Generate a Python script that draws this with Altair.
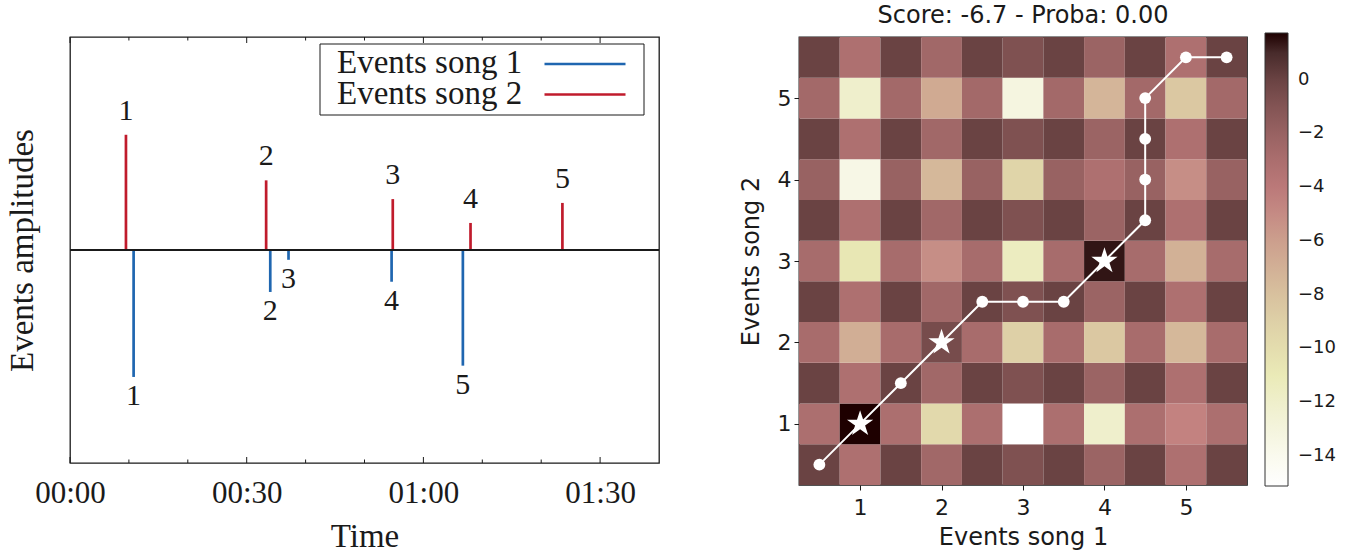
import altair as alt
import numpy as np
import pandas as pd

# ------------------------------------------------------------------
# Left panel: detected events of the two songs (times in seconds)
# ------------------------------------------------------------------
song1_times = [10.8, 34.0, 37.1, 54.6, 66.7]
song1_amps = [0.596, 0.197, 0.046, 0.149, 0.543]
song2_times = [9.5, 33.3, 54.8, 68.0, 83.6]
song2_amps = [0.541, 0.327, 0.239, 0.127, 0.221]
event_ids = [1, 2, 3, 4, 5]

time_ticks = [0, 30, 60, 90]
minor_ticks = [10, 20, 40, 50, 70, 80]
legend_labels = ["Events song 1", "Events song 2"]

# ------------------------------------------------------------------
# Right panel: alignment score grid and the best path through it
# ------------------------------------------------------------------
grid_pos = [0.5, 1.0, 1.5, 2.0, 2.5, 3.0, 3.5, 4.0, 4.5, 5.0, 5.5]
score_rows = [  # bottom row (y = 0.5) first, columns x = 0.5 ... 5.5
    [0.0, -3.15, 0.0, -2.47, 0.0, -0.8, 0.0, -2.14, 0.0, -3.15, 0.0],
    [-3.05, 1.74, -3.05, -9.7, -3.05, -15.12, -3.05, -12.05, -3.05, -4.58, -3.05],
    [0.0, -3.15, 0.0, -2.47, 0.0, -0.8, 0.0, -2.14, 0.0, -3.15, 0.0],
    [-2.85, -6.86, -2.85, -0.5, -2.85, -9.05, -2.85, -8.46, -2.85, -7.45, -2.85],
    [0.0, -3.15, 0.0, -2.47, 0.0, -0.8, 0.0, -2.14, 0.0, -3.15, 0.0],
    [-2.8, -10.74, -2.8, -5.17, -2.8, -11.41, -2.8, 1.44, -2.8, -7.03, -2.8],
    [0.0, -3.15, 0.0, -2.47, 0.0, -0.8, 0.0, -2.14, 0.0, -3.15, 0.0],
    [-2.0, -13.54, -2.0, -7.45, -2.0, -9.39, -2.0, -3.15, -2.0, -5.17, -2.0],
    [0.0, -3.15, 0.0, -2.47, 0.0, -0.8, 0.0, -2.14, 0.0, -3.15, 0.0],
    [-2.6, -12.05, -2.6, -6.61, -2.6, -13.17, -2.6, -7.3, -2.6, -8.46, -2.6],
    [0.0, -3.15, 0.0, -2.47, 0.0, -0.8, 0.0, -2.14, 0.0, -3.15, 0.0],
]
path_x = [0.5, 1.0, 1.5, 2.0, 2.5, 3.0, 3.5, 4.0, 4.5, 4.5, 4.5, 4.5, 5.0, 5.5]
path_y = [0.5, 1.0, 1.5, 2.0, 2.5, 2.5, 2.5, 3.0, 3.5, 4.0, 4.5, 5.0, 5.5, 5.5]
path_match = [0, 1, 0, 1, 0, 0, 0, 1, 0, 0, 0, 0, 0, 0]
score_ticks = [0, -2, -4, -6, -8, -10, -12, -14]
axis_ticks = [1, 2, 3, 4, 5]
title_text = "Score: -6.7 - Proba: 0.00"

# ------------------------------------------------------------------
# Styling
# ------------------------------------------------------------------
SERIF = "Liberation Serif"
SANS = "DejaVu Sans"
INK = "#1a1a1a"
BLUE = "#1f66b0"
RED = "#c01b2c"
LW, LH = 589, 426   # left plot area
RW, RH = 448, 448   # heatmap plot area

# five-pointed star in the unit square (inner radius 0.382)
STAR = ("M0,-1L0.2245,-0.309L0.9511,-0.309L0.3633,0.118L0.5878,0.809"
        "L0,0.382L-0.5878,0.809L-0.3633,0.118L-0.9511,-0.309L-0.2245,-0.309Z")


def pink_hex(x):
    """matplotlib-style 'pink' colormap: sqrt of (2/3 gray + 1/3 hot)."""
    hot = np.array([
        np.clip(0.0416 + 0.9584 * x / 0.365079, 0, 1),
        np.clip((x - 0.365079) / 0.380953, 0, 1),
        np.clip((x - 0.746032) / 0.253968, 0, 1),
    ])
    rgb = np.sqrt((2 * x + hot) / 3)
    return "#" + "".join(f"{int(round(c * 255)):02x}" for c in rgb)


# ------------------------------------------------------------------
# Left panel
# ------------------------------------------------------------------
stems = pd.DataFrame({
    "time": song1_times + song2_times,
    "amp": [-a for a in song1_amps] + song2_amps,
    "base": [0.0] * (len(song1_times) + len(song2_times)),
    "song": [legend_labels[0]] * len(song1_times) + [legend_labels[1]] * len(song2_times),
    "event": event_ids + event_ids,
})
zero_df = pd.DataFrame({"amp": [0.0]})

# every layer uses the same x / y definitions so the axes merge cleanly
x_time = alt.X(
    "time:Q",
    scale=alt.Scale(domain=[0, 100], nice=False, zero=False),
    axis=alt.Axis(
        values=time_ticks,
        labelExpr="utcFormat(datum.value * 1000, '%M:%S')",
        ticks=False, domain=False, grid=False,
        labelFlush=False, labelOverlap=False,
        labelFont=SERIF, labelFontSize=31, labelColor=INK, labelPadding=15,
        title="Time", titleFont=SERIF, titleFontSize=33, titleFontWeight="normal",
        titleColor=INK, titlePadding=12,
    ),
)
y_amp = alt.Y(
    "amp:Q",
    scale=alt.Scale(domain=[-1, 1], nice=False, zero=False),
    axis=alt.Axis(
        labels=False, ticks=False, domain=False, grid=False,
        title="Events amplitudes", titleFont=SERIF, titleFontSize=33,
        titleFontWeight="normal", titleColor=INK, titlePadding=31,
    ),
)

song2_stems = (
    alt.Chart(stems)
    .transform_filter(alt.datum.song == legend_labels[1])
    .mark_rule(color=RED, strokeWidth=2.7)
    .encode(x=x_time, y=y_amp, y2="base:Q")
)
song1_stems = (
    alt.Chart(stems)
    .transform_filter(alt.datum.song == legend_labels[0])
    .mark_rule(color=BLUE, strokeWidth=2.7)
    .encode(x=x_time, y=y_amp, y2="base:Q")
)
zero_line = (
    alt.Chart(zero_df)
    .mark_rule(color=INK, strokeWidth=2)
    .encode(y=y_amp)
)
song2_text = (
    alt.Chart(stems)
    .transform_filter(alt.datum.song == legend_labels[1])
    .mark_text(font=SERIF, fontSize=30, color=INK, baseline="middle", dy=-24)
    .encode(x=x_time, y=y_amp, text="event:N")
)
song1_text = (
    alt.Chart(stems)
    .transform_filter(alt.datum.song == legend_labels[0])
    .mark_text(font=SERIF, fontSize=30, color=INK, baseline="middle", dy=19)
    .encode(x=x_time, y=y_amp, text="event:N")
)


def inner_ticks(values, length, top):
    y0 = 0 if top else LH
    y1 = length if top else LH - length
    return (
        alt.Chart(pd.DataFrame({"time": values}))
        .mark_rule(color=INK, strokeWidth=1)
        .encode(x=x_time, y=alt.value(y0), y2=alt.value(y1))
    )


legend_df = pd.DataFrame({"label": legend_labels, "row": [0, 1]})
legend_box = (
    alt.Chart(legend_df)
    .transform_filter("datum.row == 0")
    .mark_rect(fill="white", stroke=INK, strokeWidth=1)
    .encode(x=alt.value(250), x2=alt.value(574), y=alt.value(7), y2=alt.value(78))
)
legend_layers = [legend_box]
for i, (col, yc) in enumerate(zip([BLUE, RED], [26, 56.5])):
    legend_layers.append(
        alt.Chart(legend_df)
        .transform_filter(f"datum.row == {i}")
        .mark_text(align="left", baseline="middle", font=SERIF, fontSize=33, color=INK)
        .encode(x=alt.value(267), y=alt.value(yc), text="label:N")
    )
    legend_layers.append(
        alt.Chart(legend_df)
        .transform_filter(f"datum.row == {i}")
        .mark_rule(color=col, strokeWidth=2.7)
        .encode(x=alt.value(474.5), x2=alt.value(555.5), y=alt.value(yc + 1))
    )

left = alt.layer(
    song2_stems,
    song1_stems,
    zero_line,
    song2_text,
    song1_text,
    inner_ticks(time_ticks, 6, False),
    inner_ticks(minor_ticks, 3.5, False),
    inner_ticks(time_ticks, 6, True),
    inner_ticks(minor_ticks, 3.5, True),
    *legend_layers,
).properties(width=LW, height=LH)

# ------------------------------------------------------------------
# Right panel
# ------------------------------------------------------------------
cells = pd.DataFrame(
    [{"x": gx, "y": gy, "score": s}
     for gy, row in zip(grid_pos, score_rows)
     for gx, s in zip(grid_pos, row)]
)
vmin, vmax = float(cells["score"].min()), float(cells["score"].max())
stops = [round(float(v), 4) for v in np.linspace(vmin, vmax, 33)]
stop_colors = [pink_hex((vmax - v) / (vmax - vmin)) for v in stops]

path = pd.DataFrame({
    "step": list(range(len(path_x))),
    "x0": path_x,
    "y0": path_y,
    "match": path_match,
})

grid_scale = alt.Scale(domain=[0.25, 5.75], nice=False, zero=False)
x_grid = alt.X(
    "x0:Q", scale=grid_scale,
    axis=alt.Axis(
        values=axis_ticks, grid=False, domain=False, tickSize=5, tickColor=INK,
        labelFont=SANS, labelFontSize=22, labelColor=INK, labelPadding=7,
        labelFlush=False, title="Events song 1", titleFont=SANS, titleFontSize=24,
        titleFontWeight="normal", titleColor=INK, titlePadding=7,
    ),
)
y_grid = alt.Y(
    "y0:Q", scale=grid_scale,
    axis=alt.Axis(
        values=axis_ticks, grid=False, domain=False, tickSize=5, tickColor=INK,
        labelFont=SANS, labelFontSize=22, labelColor=INK, labelPadding=3,
        labelFlush=False, title="Events song 2", titleFont=SANS, titleFontSize=24,
        titleFontWeight="normal", titleColor=INK, titlePadding=14,
    ),
)

heat = (
    alt.Chart(cells)
    .transform_calculate(
        x0="datum.x - 0.25", x1="datum.x + 0.25",
        y0="datum.y - 0.25", y1="datum.y + 0.25",
    )
    .mark_rect()
    .encode(
        x=x_grid, x2="x1:Q", y=y_grid, y2="y1:Q",
        color=alt.Color(
            "score:Q",
            scale=alt.Scale(domain=stops, range=stop_colors, interpolate="rgb"),
            legend=alt.Legend(
                orient="none", legendX=466, legendY=-4, direction="vertical",
                gradientLength=453, gradientThickness=23,
                gradientStrokeColor="#333333", gradientStrokeWidth=1,
                values=score_ticks, title=None,
                labelFont=SANS, labelFontSize=18, labelColor=INK, labelOffset=10,
            ),
        ),
    )
)
path_line = (
    alt.Chart(path)
    .mark_line(color="white", strokeWidth=2)
    .encode(x=x_grid, y=y_grid, order="step:Q")
)
path_dots = (
    alt.Chart(path)
    .transform_filter("datum.match == 0")
    .mark_point(shape="circle", filled=True, color="white", opacity=1, size=140)
    .encode(x=x_grid, y=y_grid)
)
path_stars = (
    alt.Chart(path)
    .transform_filter("datum.match == 1")
    .mark_point(shape=STAR, filled=True, color="white", opacity=1, size=760)
    .encode(x=x_grid, y=y_grid)
)

right = alt.layer(heat, path_line, path_dots, path_stars).properties(
    width=RW,
    height=RH,
    title=alt.TitleParams(
        title_text, font=SANS, fontSize=24, fontWeight="normal", color=INK,
        offset=5, frame="group", anchor="middle",
    ),
)

chart = (
    alt.hconcat(left, right, spacing=140, bounds="flush")
    .resolve_legend(color="independent")
    .resolve_scale(color="independent")
    .configure_view(stroke=INK, strokeWidth=1.3)
    .properties(padding={"left": 5, "top": 3, "right": 5, "bottom": 5})
)

chart.save("out.html", embed_options={"renderer": "svg", "actions": False})
